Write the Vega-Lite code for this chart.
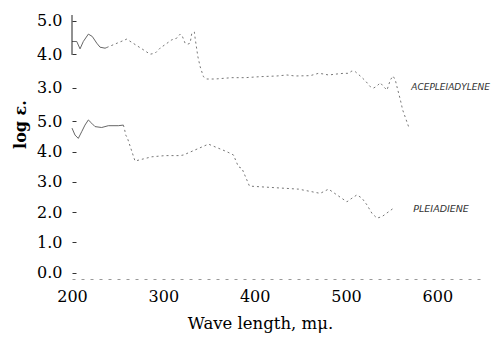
{
  "$schema": "https://vega.github.io/schema/vega-lite/v6.json",
  "width": 411,
  "height": 269,
  "autosize": "none",
  "padding": {"left": 72, "top": 10, "right": 15, "bottom": 59},
  "background": "white",
  "config": {"view": {"stroke": null}, "axis": {"labelFont": "DejaVu Serif", "titleFont": "DejaVu Serif", "labelColor": "black", "titleColor": "black", "grid": false}},
  "datasets": {
    "spectra": [
      {"compound": "Pleiadiene", "wl": 200, "loge": 4.78},
      {"compound": "Pleiadiene", "wl": 203.3, "loge": 4.55},
      {"compound": "Pleiadiene", "wl": 206.9, "loge": 4.44},
      {"compound": "Pleiadiene", "wl": 210.6, "loge": 4.66},
      {"compound": "Pleiadiene", "wl": 214.2, "loge": 4.88},
      {"compound": "Pleiadiene", "wl": 217.9, "loge": 5.05},
      {"compound": "Pleiadiene", "wl": 221.6, "loge": 4.94},
      {"compound": "Pleiadiene", "wl": 225.2, "loge": 4.83},
      {"compound": "Pleiadiene", "wl": 232.5, "loge": 4.8},
      {"compound": "Pleiadiene", "wl": 239.8, "loge": 4.86},
      {"compound": "Pleiadiene", "wl": 250.7, "loge": 4.86},
      {"compound": "Pleiadiene", "wl": 256.2, "loge": 4.88},
      {"compound": "Pleiadiene", "wl": 257.3, "loge": 4.78},
      {"compound": "Pleiadiene", "wl": 258.8, "loge": 4.55},
      {"compound": "Pleiadiene", "wl": 260.6, "loge": 4.46},
      {"compound": "Pleiadiene", "wl": 269.0, "loge": 3.69},
      {"compound": "Pleiadiene", "wl": 278.1, "loge": 3.76},
      {"compound": "Pleiadiene", "wl": 287.3, "loge": 3.83},
      {"compound": "Pleiadiene", "wl": 301.9, "loge": 3.87},
      {"compound": "Pleiadiene", "wl": 318.4, "loge": 3.87},
      {"compound": "Pleiadiene", "wl": 322.0, "loge": 3.89},
      {"compound": "Pleiadiene", "wl": 349.4, "loge": 4.25},
      {"compound": "Pleiadiene", "wl": 369.5, "loge": 4.0},
      {"compound": "Pleiadiene", "wl": 376.8, "loge": 3.89},
      {"compound": "Pleiadiene", "wl": 382.2, "loge": 3.5},
      {"compound": "Pleiadiene", "wl": 386.0, "loge": 3.45},
      {"compound": "Pleiadiene", "wl": 391.5, "loge": 3.06},
      {"compound": "Pleiadiene", "wl": 394.3, "loge": 2.86},
      {"compound": "Pleiadiene", "wl": 448.0, "loge": 2.76},
      {"compound": "Pleiadiene", "wl": 471.8, "loge": 2.62},
      {"compound": "Pleiadiene", "wl": 480.9, "loge": 2.76},
      {"compound": "Pleiadiene", "wl": 501.0, "loge": 2.34},
      {"compound": "Pleiadiene", "wl": 506.5, "loge": 2.46},
      {"compound": "Pleiadiene", "wl": 512.0, "loge": 2.57},
      {"compound": "Pleiadiene", "wl": 517.5, "loge": 2.46},
      {"compound": "Pleiadiene", "wl": 522.9, "loge": 2.24},
      {"compound": "Pleiadiene", "wl": 528.4, "loge": 1.96},
      {"compound": "Pleiadiene", "wl": 533.9, "loge": 1.8},
      {"compound": "Pleiadiene", "wl": 539.4, "loge": 1.85},
      {"compound": "Pleiadiene", "wl": 546.6, "loge": 2.01},
      {"compound": "Pleiadiene", "wl": 552.1, "loge": 2.13},
      {"compound": "Acepleiadylene", "wl": 200, "loge": 4.38},
      {"compound": "Acepleiadylene", "wl": 205.2, "loge": 4.38},
      {"compound": "Acepleiadylene", "wl": 208.8, "loge": 4.16},
      {"compound": "Acepleiadylene", "wl": 212.4, "loge": 4.38},
      {"compound": "Acepleiadylene", "wl": 217.9, "loge": 4.6},
      {"compound": "Acepleiadylene", "wl": 222.2, "loge": 4.53},
      {"compound": "Acepleiadylene", "wl": 227.1, "loge": 4.33},
      {"compound": "Acepleiadylene", "wl": 230.7, "loge": 4.21},
      {"compound": "Acepleiadylene", "wl": 236.2, "loge": 4.18},
      {"compound": "Acepleiadylene", "wl": 238.0, "loge": 4.2},
      {"compound": "Acepleiadylene", "wl": 259.9, "loge": 4.45},
      {"compound": "Acepleiadylene", "wl": 280.0, "loge": 4.1},
      {"compound": "Acepleiadylene", "wl": 285.5, "loge": 4.0},
      {"compound": "Acepleiadylene", "wl": 291.0, "loge": 4.03},
      {"compound": "Acepleiadylene", "wl": 296.4, "loge": 4.18},
      {"compound": "Acepleiadylene", "wl": 309.3, "loge": 4.43},
      {"compound": "Acepleiadylene", "wl": 314.7, "loge": 4.48},
      {"compound": "Acepleiadylene", "wl": 318.4, "loge": 4.6},
      {"compound": "Acepleiadylene", "wl": 320.9, "loge": 4.53},
      {"compound": "Acepleiadylene", "wl": 323.8, "loge": 4.33},
      {"compound": "Acepleiadylene", "wl": 326.8, "loge": 4.3},
      {"compound": "Acepleiadylene", "wl": 329.3, "loge": 4.33},
      {"compound": "Acepleiadylene", "wl": 331.2, "loge": 4.63},
      {"compound": "Acepleiadylene", "wl": 334.0, "loge": 4.66},
      {"compound": "Acepleiadylene", "wl": 334.8, "loge": 4.48},
      {"compound": "Acepleiadylene", "wl": 337.8, "loge": 3.93},
      {"compound": "Acepleiadylene", "wl": 340.3, "loge": 3.63},
      {"compound": "Acepleiadylene", "wl": 343.9, "loge": 3.33},
      {"compound": "Acepleiadylene", "wl": 347.6, "loge": 3.26},
      {"compound": "Acepleiadylene", "wl": 356.7, "loge": 3.26},
      {"compound": "Acepleiadylene", "wl": 375.0, "loge": 3.3},
      {"compound": "Acepleiadylene", "wl": 389.6, "loge": 3.3},
      {"compound": "Acepleiadylene", "wl": 406.0, "loge": 3.33},
      {"compound": "Acepleiadylene", "wl": 424.3, "loge": 3.35},
      {"compound": "Acepleiadylene", "wl": 435.3, "loge": 3.38},
      {"compound": "Acepleiadylene", "wl": 444.4, "loge": 3.35},
      {"compound": "Acepleiadylene", "wl": 460.8, "loge": 3.36},
      {"compound": "Acepleiadylene", "wl": 469.9, "loge": 3.43},
      {"compound": "Acepleiadylene", "wl": 475.4, "loge": 3.41},
      {"compound": "Acepleiadylene", "wl": 480.9, "loge": 3.38},
      {"compound": "Acepleiadylene", "wl": 490.1, "loge": 3.41},
      {"compound": "Acepleiadylene", "wl": 497.3, "loge": 3.43},
      {"compound": "Acepleiadylene", "wl": 502.8, "loge": 3.43},
      {"compound": "Acepleiadylene", "wl": 506.5, "loge": 3.5},
      {"compound": "Acepleiadylene", "wl": 510.1, "loge": 3.48},
      {"compound": "Acepleiadylene", "wl": 515.6, "loge": 3.35},
      {"compound": "Acepleiadylene", "wl": 521.1, "loge": 3.21},
      {"compound": "Acepleiadylene", "wl": 526.6, "loge": 3.03},
      {"compound": "Acepleiadylene", "wl": 530.2, "loge": 2.99},
      {"compound": "Acepleiadylene", "wl": 533.9, "loge": 3.05},
      {"compound": "Acepleiadylene", "wl": 537.5, "loge": 3.15},
      {"compound": "Acepleiadylene", "wl": 541.2, "loge": 3.03},
      {"compound": "Acepleiadylene", "wl": 544.9, "loge": 2.93},
      {"compound": "Acepleiadylene", "wl": 548.5, "loge": 3.23},
      {"compound": "Acepleiadylene", "wl": 551.5, "loge": 3.35},
      {"compound": "Acepleiadylene", "wl": 554.0, "loge": 3.23},
      {"compound": "Acepleiadylene", "wl": 555.8, "loge": 3.03},
      {"compound": "Acepleiadylene", "wl": 559.5, "loge": 2.64},
      {"compound": "Acepleiadylene", "wl": 562.0, "loge": 2.34},
      {"compound": "Acepleiadylene", "wl": 568.5, "loge": 1.84}
    ],
    "labels": [
      {"compound": "Pleiadiene", "wl": 573.7, "loge": 2.1, "text": "PLEIADIENE"},
      {"compound": "Acepleiadylene", "wl": 571.5, "loge": 3.02, "text": "ACEPLEIADYLENE"}
    ],
    "frame": [
      {"wl": 200, "lo": 3.98, "hi": 5.17}
    ]
  },
  "layer": [
    {
      "layer": [
        {
          "data": {"name": "spectra"},
          "transform": [{"filter": "datum.compound === 'Pleiadiene' && datum.wl <= 256.2"}],
          "mark": {"type": "line", "stroke": "#555", "strokeWidth": 0.9},
          "encoding": {
            "x": {"field": "wl", "type": "quantitative", "scale": {"domain": [200, 650], "nice": false, "zero": false},
              "axis": {"title": "Wave length, mμ.", "values": [200, 300, 400, 500, 600], "ticks": false, "labelFlush": false, "labelFontSize": 16, "labelPadding": 9,
                "domainColor": "#999", "domainDash": [3, 6], "domainWidth": 1,
                "titleFontSize": 16.5, "titleFontWeight": "normal", "titleX": 188, "titleY": 44, "titleBaseline": "middle", "titleAlign": "center"}},
            "y": {"field": "loge", "type": "quantitative", "scale": {"domain": [-0.215, 8.69], "nice": false, "zero": false},
              "axis": {"title": "log ε.", "values": [0, 1, 2, 3, 4, 5], "format": ".1f", "domain": false, "tickSize": -4, "tickColor": "#333", "labelPadding": 14, "labelFontSize": 16,
                "titleFontSize": 16, "titleFontWeight": "bold", "titleAngle": -90, "titleX": -52, "titleY": 114, "titleAlign": "center", "titleBaseline": "middle"}}
          }
        },
        {
          "data": {"name": "spectra"},
          "transform": [{"filter": "datum.compound === 'Pleiadiene' && datum.wl >= 256.2"}],
          "mark": {"type": "line", "stroke": "#666", "strokeWidth": 0.9, "strokeDash": [2, 3]},
          "encoding": {
            "x": {"field": "wl", "type": "quantitative"},
            "y": {"field": "loge", "type": "quantitative"}
          }
        },
        {
          "data": {"name": "labels"},
          "transform": [{"filter": "datum.compound === 'Pleiadiene'"}],
          "mark": {"type": "text", "align": "left", "baseline": "middle", "fontStyle": "italic", "fontSize": 9.5, "font": "DejaVu Sans", "color": "#333"},
          "encoding": {
            "x": {"field": "wl", "type": "quantitative"},
            "y": {"field": "loge", "type": "quantitative"},
            "text": {"field": "text"}
          }
        }
      ]
    },
    {
      "layer": [
        {
          "data": {"name": "spectra"},
          "transform": [{"filter": "datum.compound === 'Acepleiadylene' && datum.wl <= 238"}],
          "mark": {"type": "line", "stroke": "#555", "strokeWidth": 0.9},
          "encoding": {
            "x": {"field": "wl", "type": "quantitative"},
            "y": {"field": "loge", "type": "quantitative", "scale": {"domain": [-2.71, 5.32], "nice": false, "zero": false},
              "axis": {"title": null, "orient": "left", "values": [3, 4, 5], "format": ".1f", "domain": false, "tickSize": -4, "tickColor": "#333", "labelPadding": 14, "labelFontSize": 16}}
          }
        },
        {
          "data": {"name": "spectra"},
          "transform": [{"filter": "datum.compound === 'Acepleiadylene' && datum.wl >= 238"}],
          "mark": {"type": "line", "stroke": "#666", "strokeWidth": 0.9, "strokeDash": [2, 3]},
          "encoding": {
            "x": {"field": "wl", "type": "quantitative"},
            "y": {"field": "loge", "type": "quantitative"}
          }
        },
        {
          "data": {"name": "frame"},
          "mark": {"type": "rule", "stroke": "#222", "strokeWidth": 1},
          "encoding": {
            "x": {"field": "wl", "type": "quantitative"},
            "y": {"field": "lo", "type": "quantitative"},
            "y2": {"field": "hi"}
          }
        },
        {
          "data": {"name": "labels"},
          "transform": [{"filter": "datum.compound === 'Acepleiadylene'"}],
          "mark": {"type": "text", "align": "left", "baseline": "middle", "fontStyle": "italic", "fontSize": 9, "font": "DejaVu Sans", "color": "#333"},
          "encoding": {
            "x": {"field": "wl", "type": "quantitative"},
            "y": {"field": "loge", "type": "quantitative"},
            "text": {"field": "text"}
          }
        }
      ]
    }
  ],
  "resolve": {"scale": {"y": "independent"}}
}
